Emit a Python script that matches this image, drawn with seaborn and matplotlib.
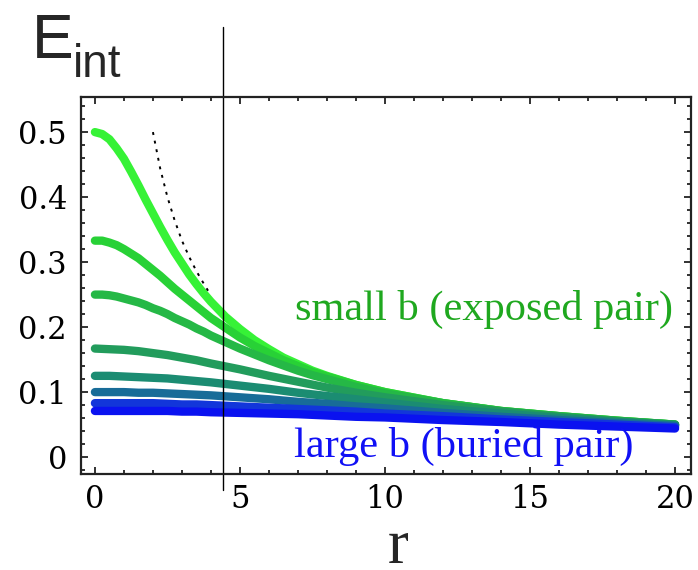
import matplotlib
matplotlib.use("Agg")
import matplotlib.pyplot as plt
import numpy as np
import pandas as pd
import seaborn as sns
from matplotlib.ticker import FixedLocator, MultipleLocator

# sampled interaction energy E_int(r) for a range of burial parameters b
# (steep, small-b curves are sampled more finely)
r_fine = [0, 0.25, 0.5, 0.75, 1, 1.25, 1.5, 1.75, 2, 2.25, 2.5, 2.75, 3, 3.25,
          3.5, 3.75, 4, 4.5, 5, 5.5, 6, 6.5, 7, 7.5, 8, 9, 10, 12, 14, 16, 18, 20]
r_coarse = [0, 0.5, 1, 1.5, 2, 2.5, 3, 3.5, 4, 5, 6, 7, 8, 9, 10, 12, 14, 16,
            18, 20]
b_values = [2, 3, 4, 6, 8, 10, 12, 14]

e_b2 = [0.500, 0.497, 0.489, 0.475, 0.459, 0.439, 0.418, 0.396, 0.375, 0.354,
        0.334, 0.315, 0.298, 0.281, 0.266, 0.252, 0.239, 0.216, 0.197, 0.180,
        0.166, 0.153, 0.143, 0.133, 0.125, 0.111, 0.100, 0.083, 0.071, 0.063,
        0.056, 0.050]
e_b3 = [0.333, 0.333, 0.330, 0.326, 0.320, 0.313, 0.306, 0.297, 0.288, 0.279,
        0.269, 0.259, 0.250, 0.241, 0.232, 0.223, 0.214, 0.199, 0.184, 0.171,
        0.160, 0.149, 0.140, 0.131, 0.124, 0.111, 0.100, 0.083, 0.071, 0.063,
        0.056, 0.050]
e_b4 = [0.250, 0.250, 0.249, 0.247, 0.244, 0.241, 0.238, 0.234, 0.229, 0.225,
        0.220, 0.214, 0.209, 0.204, 0.198, 0.193, 0.187, 0.177, 0.167, 0.158,
        0.149, 0.141, 0.133, 0.126, 0.120, 0.108, 0.098, 0.083, 0.071, 0.063,
        0.056, 0.050]
e_b6 = [0.167, 0.166, 0.165, 0.163, 0.160, 0.157, 0.153, 0.149, 0.144, 0.135,
        0.125, 0.116, 0.107, 0.099, 0.092, 0.080, 0.070, 0.062, 0.055, 0.050]
e_b8 = [0.125, 0.125, 0.124, 0.123, 0.122, 0.121, 0.119, 0.117, 0.115, 0.110,
        0.105, 0.099, 0.094, 0.089, 0.084, 0.074, 0.067, 0.060, 0.054, 0.049]
e_b10 = [0.100, 0.100, 0.100, 0.099, 0.099, 0.098, 0.097, 0.096, 0.095, 0.092,
         0.089, 0.085, 0.082, 0.078, 0.075, 0.068, 0.062, 0.057, 0.052, 0.048]
e_b12 = [0.083, 0.083, 0.083, 0.083, 0.083, 0.082, 0.081, 0.081, 0.080, 0.078,
         0.076, 0.074, 0.072, 0.070, 0.067, 0.063, 0.058, 0.054, 0.050, 0.046]
e_b14 = [0.071, 0.071, 0.071, 0.071, 0.071, 0.071, 0.070, 0.070, 0.069, 0.068,
         0.067, 0.066, 0.064, 0.062, 0.061, 0.057, 0.054, 0.050, 0.047, 0.044]

# bare Coulomb-like reference 1/r at short range (dotted)
r_coul = [2.0, 2.25, 2.5, 2.75, 3.0, 3.25, 3.5, 3.75, 3.9]
e_coul = [0.500, 0.444, 0.400, 0.364, 0.333, 0.308, 0.286, 0.267, 0.256]

x_ticks = [0, 5, 10, 15, 20]
x_tick_labels = ["0", "5", "10", "15", "20"]
y_ticks = [0, 0.1, 0.2, 0.3, 0.4, 0.5]
y_tick_labels = ["0", "0.1", "0.2", "0.3", "0.4", "0.5"]

curve_colors = ["#36f236", "#28d136", "#25b846", "#229c5c",
                "#1b8c72", "#186c98", "#1236da", "#0a12f0"]

series = [e_b2, e_b3, e_b4, e_b6, e_b8, e_b10, e_b12, e_b14]
grids = [r_fine, r_fine, r_fine] + [r_coarse] * 5
df = pd.concat(
    [pd.DataFrame({"r": g, "E": e, "b": b})
     for b, g, e in zip(b_values, grids, series)],
    ignore_index=True,
)

sns.set_style("ticks")
plt.rcParams["font.family"] = ["DejaVu Serif"]

W, H = 698, 570
fig = plt.figure(figsize=(W / 100, H / 100), dpi=100)
fig.patch.set_facecolor("white")
ax = fig.add_axes([81 / W, 1 - 474 / H, (691 - 81) / W, (474 - 97) / H])
ax.set_facecolor("white")

sns.lineplot(data=df, x="r", y="E", hue="b", hue_order=b_values,
             palette=curve_colors, linewidth=6, legend=False, sort=False,
             solid_capstyle="round", solid_joinstyle="round", ax=ax)

ax.plot(r_coul, e_coul, color="black", linewidth=1.4,
        linestyle=(0, (1.5, 3)))

ax.axvline(4.41, ymin=-0.042, ymax=1.186, clip_on=False,
           color="black", linewidth=1.0)

ax.set_xlim(-0.48, 20.55)
ax.set_ylim(-0.026, 0.554)

ax.xaxis.set_major_locator(FixedLocator(x_ticks))
ax.set_xticklabels(x_tick_labels)
ax.xaxis.set_minor_locator(MultipleLocator(1))
ax.yaxis.set_major_locator(FixedLocator(y_ticks))
ax.set_yticklabels(y_tick_labels)
ax.yaxis.set_minor_locator(MultipleLocator(0.02))

ax.tick_params(which="both", direction="in", top=True, right=True,
               width=1.3, color="#222222")
ax.tick_params(which="major", length=5, labelsize=22, labelcolor="black")
ax.tick_params(which="minor", length=3)
ax.tick_params(axis="y", pad=10)
ax.tick_params(axis="x", pad=7)
for s in ax.spines.values():
    s.set_linewidth(1.6)
    s.set_color("#222222")

ax.set_xlabel("")
ax.set_ylabel("")

ax.text(13.4, 0.211, "small b (exposed pair)", ha="center", va="baseline",
        fontsize=30.5, color="#1fa81f", family="Liberation Serif")
ax.text(12.72, 0.0, "large b (buried pair)", ha="center", va="baseline",
        fontsize=30.5, color="#1010f5", family="Liberation Serif")

fig.text(32 / W, 1 - 58 / H, "E", fontsize=45, family="Liberation Sans",
         ha="left", va="baseline")
fig.text(73 / W, 1 - 77 / H, "int", fontsize=33, family="Liberation Sans",
         ha="left", va="baseline")
fig.text(398 / W, 7 / H, "r", fontsize=45, family="Liberation Serif",
         ha="center", va="baseline")

fig.savefig("out.png", dpi=100, facecolor="white")
